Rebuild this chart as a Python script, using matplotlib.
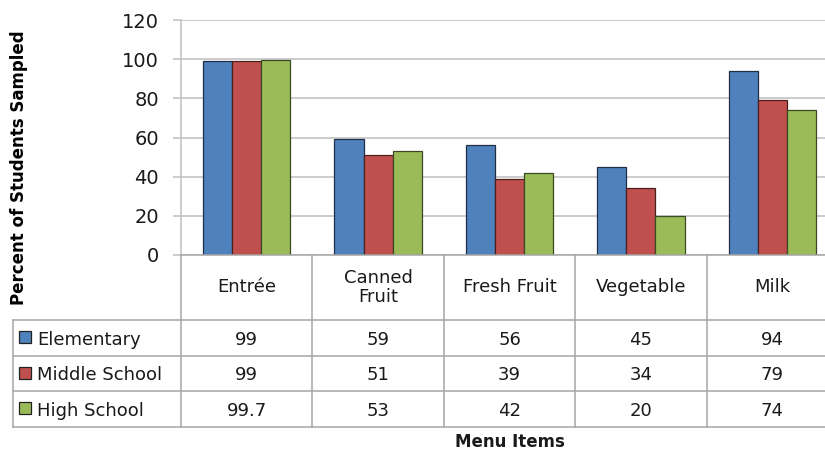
import matplotlib
matplotlib.use("Agg")
import matplotlib.pyplot as plt
from matplotlib.patches import Rectangle

categories = ["Entrée", "Canned\nFruit", "Fresh Fruit", "Vegetable", "Milk"]
series_names = ["Elementary", "Middle School", "High School"]
elementary = [99, 59, 56, 45, 94]
middle_school = [99, 51, 39, 34, 79]
high_school = [99.7, 53, 42, 20, 74]
yticks = [0, 20, 40, 60, 80, 100, 120]

series = [elementary, middle_school, high_school]
colors = ["#4F81BD", "#C0504D", "#9BBB59"]
edges = ["#1f2f45", "#4a1f1e", "#3b4a22"]
grid_c = "#BFBFBF"
tab_c = "#A6A6A6"

plt.rcParams['font.family'] = ['DejaVu Sans']

W, H = 825, 453
fig = plt.figure(figsize=(W / 100, H / 100), dpi=100)
ax = fig.add_axes([181 / W, 1 - 255 / H, (838 - 181) / W, (255 - 20) / H])

n = len(categories)
bw = 0.222
for s, (vals, c, ec) in enumerate(zip(series, colors, edges)):
    xs = [i + 0.5 + (s - 1) * bw for i in range(n)]
    ax.bar(xs, vals, width=bw, color=c, edgecolor=ec, linewidth=0.9, zorder=3)

ax.set_xlim(0, n)
ax.set_ylim(0, 120)
ax.set_yticks(yticks)
ax.set_yticklabels([str(t) for t in yticks], fontsize=14, color="#1a1a1a")
ax.set_xticks([])
ax.yaxis.grid(True, color=grid_c, linewidth=1.1, zorder=0)
for sp in ["top", "right", "bottom"]:
    ax.spines[sp].set_visible(False)
ax.spines["left"].set_color(grid_c)
ax.spines["left"].set_linewidth(1.1)
ax.tick_params(axis="y", length=6, color=grid_c, width=1.1, pad=10)
ax.axhline(0, color=tab_c, linewidth=1.1, zorder=4, clip_on=False)

ax.set_ylabel("Percent of Students Sampled", fontsize=12, fontweight="bold",
              labelpad=0)
ax.yaxis.set_label_coords((28 - 181) / 657, (255 - 168) / 235)

# ---- data table ----
tr = ax.get_xaxis_transform()
px = 235.0
row_y = [-(320 - 255) / px, -(356 - 255) / px, -(391 - 255) / px, -(427 - 255) / px]
left = (13 - 181) / 131.4

for k, yy in enumerate(row_y):
    ax.plot([left, n], [yy, yy], transform=tr, color=tab_c, lw=1.1, clip_on=False)
for i in range(0, n + 1):
    ax.plot([i, i], [0, row_y[-1]], transform=tr, color=tab_c, lw=1.1, clip_on=False)
ax.plot([left, left], [row_y[0], row_y[-1]], transform=tr, color=tab_c, lw=1.1, clip_on=False)

for i, cat in enumerate(categories):
    ax.text(i + 0.5, (0 + row_y[0]) / 2, cat, transform=tr, ha="center", va="center",
            fontsize=13, color="#1a1a1a", linespacing=1.1)

for r, (name, vals, c, ec) in enumerate(zip(series_names, series, colors, edges)):
    top = row_y[r]
    bot = row_y[r + 1]
    mid = (top + bot) / 2
    key_x = left + 6 / 131.4
    key = Rectangle((key_x, top - 23 / px), 12 / 131.4, 12 / px, transform=tr,
                    facecolor=c, edgecolor="#222222", linewidth=0.9, clip_on=False)
    ax.add_patch(key)
    ax.text(left + 24 / 131.4, mid - 2 / px, name, transform=tr, ha="left", va="center",
            fontsize=13, color="#1a1a1a")
    for i, v in enumerate(vals):
        ax.text(i + 0.5, mid - 2 / px, f"{v:g}", transform=tr, ha="center", va="center",
                fontsize=13, color="#1a1a1a")

ax.text(0.5, -(442 - 255) / px, "Menu Items", transform=ax.transAxes, ha="center",
        va="center", fontsize=12, fontweight="bold", color="#1a1a1a")

fig.savefig("out.png", dpi=100, facecolor="white")
